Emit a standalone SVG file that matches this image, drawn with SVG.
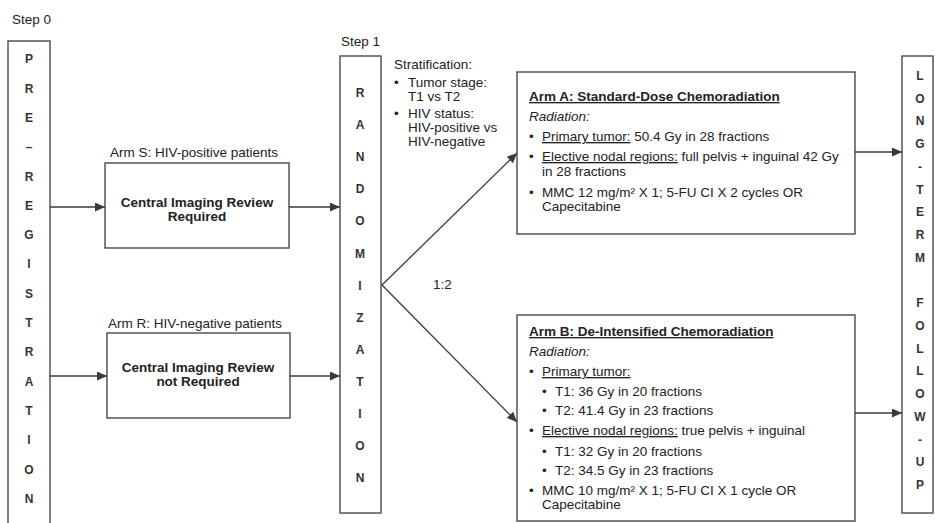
<svg xmlns="http://www.w3.org/2000/svg" width="935" height="523" viewBox="0 0 935 523">
<defs>
<marker id="ah" markerUnits="userSpaceOnUse" markerWidth="11" markerHeight="9" refX="10" refY="4.5" orient="auto">
<path d="M0,0 L10,4.5 L0,9 Z" fill="#3a3a3a"/>
</marker>
<style>
.box{fill:#fff;stroke:#555;stroke-width:1.5}
.t{font-family:"Liberation Sans",Arial,sans-serif;font-size:13.5px;fill:#222}
.b{font-weight:bold}
.col{font-family:"Liberation Sans",Arial,sans-serif;font-size:12px;font-weight:bold;fill:#333;text-anchor:middle}
.c{text-anchor:middle}
.u{text-decoration:underline}
.i{font-style:italic}
.con{stroke:#3a3a3a;stroke-width:1.3;fill:none;marker-end:url(#ah)}
</style>
</defs>
<rect width="935" height="523" fill="#fff"/>

<text class="t" x="12" y="24">Step 0</text>
<text class="t" x="341" y="46">Step 1</text>

<g id="preregistration">
<rect class="box" x="8" y="41" width="42" height="495"/>
<text class="col" x="29">
<tspan x="29" y="63">P</tspan><tspan x="29" y="93">R</tspan><tspan x="29" y="122">E</tspan><tspan x="29" y="151">–</tspan><tspan x="29" y="181">R</tspan><tspan x="29" y="210">E</tspan><tspan x="29" y="239">G</tspan><tspan x="29" y="268">I</tspan><tspan x="29" y="298">S</tspan><tspan x="29" y="327">T</tspan><tspan x="29" y="356">R</tspan><tspan x="29" y="386">A</tspan><tspan x="29" y="415">T</tspan><tspan x="29" y="444">I</tspan><tspan x="29" y="474">O</tspan><tspan x="29" y="503">N</tspan>
</text>
</g>

<g id="armS">
<text class="t" x="110" y="157">Arm S: HIV-positive patients</text>
<rect class="box" x="105" y="163" width="184" height="85"/>
<text class="t b c" x="197" y="207">Central Imaging Review</text>
<text class="t b c" x="197" y="221">Required</text>
</g>

<g id="armR">
<text class="t" x="108" y="328">Arm R: HIV-negative patients</text>
<rect class="box" x="107" y="333" width="183" height="85"/>
<text class="t b c" x="198" y="372">Central Imaging Review</text>
<text class="t b c" x="198" y="386">not Required</text>
</g>

<g id="randomization">
<rect class="box" x="340" y="56" width="41" height="457"/>
<text class="col">
<tspan x="360" y="97">R</tspan><tspan x="360" y="129">A</tspan><tspan x="360" y="161">N</tspan><tspan x="360" y="193">D</tspan><tspan x="360" y="225">O</tspan><tspan x="360" y="258">M</tspan><tspan x="360" y="290">I</tspan><tspan x="360" y="322">Z</tspan><tspan x="360" y="354">A</tspan><tspan x="360" y="386">T</tspan><tspan x="360" y="418">I</tspan><tspan x="360" y="450">O</tspan><tspan x="360" y="482">N</tspan>
</text>
</g>

<g id="stratification">
<text class="t" x="394" y="69">Stratification:</text>
<text class="t" x="394" y="87">•</text>
<text class="t" x="408" y="87">Tumor stage:</text>
<text class="t" x="408" y="101">T1 vs T2</text>
<text class="t" x="394" y="118">•</text>
<text class="t" x="408" y="118">HIV status:</text>
<text class="t" x="408" y="132">HIV-positive vs</text>
<text class="t" x="408" y="146">HIV-negative</text>
</g>

<g id="armA">
<rect class="box" x="517" y="72" width="338" height="162"/>
<text class="t b u" x="529" y="101">Arm A: Standard-Dose Chemoradiation</text>
<text class="t i" x="529" y="121">Radiation:</text>
<text class="t" x="529" y="141">•</text>
<text class="t" x="542" y="141"><tspan class="u">Primary tumor:</tspan> 50.4 Gy in 28 fractions</text>
<text class="t" x="529" y="161">•</text>
<text class="t" x="542" y="161"><tspan class="u">Elective nodal regions:</tspan> full pelvis + inguinal 42 Gy</text>
<text class="t" x="542" y="176">in 28 fractions</text>
<text class="t" x="529" y="197">•</text>
<text class="t" x="542" y="197">MMC 12 mg/m² X 1; 5-FU CI X 2 cycles OR</text>
<text class="t" x="542" y="211">Capecitabine</text>
</g>

<g id="armB">
<rect class="box" x="517" y="315" width="338" height="206"/>
<text class="t b u" x="529" y="336">Arm B: De-Intensified Chemoradiation</text>
<text class="t i" x="529" y="356">Radiation:</text>
<text class="t" x="529" y="376">•</text>
<text class="t" x="542" y="376"><tspan class="u">Primary tumor:</tspan></text>
<text class="t" x="542" y="396">•</text>
<text class="t" x="555" y="396">T1: 36 Gy in 20 fractions</text>
<text class="t" x="542" y="415">•</text>
<text class="t" x="555" y="415">T2: 41.4 Gy in 23 fractions</text>
<text class="t" x="529" y="435">•</text>
<text class="t" x="542" y="435"><tspan class="u">Elective nodal regions:</tspan> true pelvis + inguinal</text>
<text class="t" x="542" y="456">•</text>
<text class="t" x="555" y="456">T1: 32 Gy in 20 fractions</text>
<text class="t" x="542" y="475">•</text>
<text class="t" x="555" y="475">T2: 34.5 Gy in 23 fractions</text>
<text class="t" x="529" y="495">•</text>
<text class="t" x="542" y="495">MMC 10 mg/m² X 1; 5-FU CI X 1 cycle OR</text>
<text class="t" x="542" y="509">Capecitabine</text>
</g>

<g id="followup">
<rect class="box" x="902" y="56" width="31" height="457"/>
<text class="col">
<tspan x="920" y="80">L</tspan><tspan x="920" y="103">O</tspan><tspan x="920" y="125">N</tspan><tspan x="920" y="148">G</tspan><tspan x="920" y="171">-</tspan><tspan x="920" y="194">T</tspan><tspan x="920" y="216">E</tspan><tspan x="920" y="239">R</tspan><tspan x="920" y="262">M</tspan><tspan x="920" y="307">F</tspan><tspan x="920" y="330">O</tspan><tspan x="920" y="353">L</tspan><tspan x="920" y="375">L</tspan><tspan x="920" y="398">O</tspan><tspan x="920" y="421">W</tspan><tspan x="920" y="444">-</tspan><tspan x="920" y="466">U</tspan><tspan x="920" y="489">P</tspan>
</text>
</g>

<g id="connectors">
<line class="con" x1="50" y1="207" x2="105" y2="207"/>
<line class="con" x1="50" y1="376" x2="107" y2="376"/>
<line class="con" x1="289" y1="207" x2="340" y2="207"/>
<line class="con" x1="290" y1="376" x2="340" y2="376"/>
<line class="con" x1="382" y1="285" x2="517" y2="153"/>
<line class="con" x1="382" y1="285" x2="517" y2="422"/>
<line class="con" x1="855" y1="152" x2="902" y2="152"/>
<line class="con" x1="855" y1="413" x2="902" y2="413"/>
<text class="t" x="433" y="289">1:2</text>
</g>
</svg>
